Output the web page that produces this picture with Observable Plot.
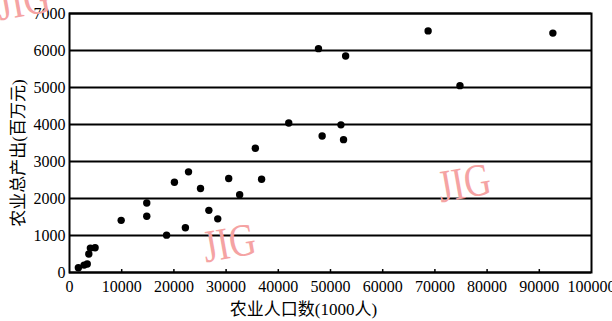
<!DOCTYPE html>
<html><head><meta charset="utf-8">
<script src="https://cdn.jsdelivr.net/npm/d3@7"></script>
<script src="https://cdn.jsdelivr.net/npm/@observablehq/plot@0.6"></script>
<style>
body{margin:0;background:#fff}
#c{position:relative;width:612px;height:321px;overflow:hidden;background:#fff}
.wm{position:absolute;color:#f5a3a3;font-family:"Liberation Serif",serif;font-size:46px;line-height:1;transform-origin:center;pointer-events:none;white-space:nowrap}
</style></head>
<body><div id="c"></div>
<script>
const popX = [1700, 2800, 3400, 3700, 4000, 4900, 9900, 14800, 14800, 18600, 20100, 22200, 22800, 25100, 26700, 28400, 30500, 32600, 35600, 36800, 42000, 47700, 48400, 52000, 52500, 52900, 68700, 74800, 92600];
const outY = [130, 200, 230, 500, 660, 670, 1410, 1880, 1520, 1010, 2440, 1210, 2720, 2270, 1680, 1450, 2540, 2100, 3360, 2520, 4040, 6050, 3690, 3990, 3590, 5850, 6530, 5050, 6470];
const xTicks = [0, 10000, 20000, 30000, 40000, 50000, 60000, 70000, 80000, 90000, 100000];
const yTicks = [0, 1000, 2000, 3000, 4000, 5000, 6000, 7000];
const xTitle = "农业人口数(1000人)";
const yTitle = "农业总产出(百万元)";
const watermark = "JIG";

const data = popX.map((x, i) => ({x, y: outY[i]}));
const font = '"Liberation Serif","Noto Sans CJK SC",serif';

const chart = Plot.plot({
  width: 612, height: 321,
  marginLeft: 69, marginRight: 21, marginTop: 13, marginBottom: 49,
  style: {fontFamily: font, fontSize: "16px", color: "#000", background: "#fff", overflow: "visible"},
  x: {domain: [0, 100000], label: null},
  y: {domain: [0, 7000], label: null},
  marks: [
    Plot.ruleY(yTicks, {stroke: "#000", strokeWidth: 2}),
    Plot.ruleX(xTicks.slice(1, -1), {y1: 0, y2: 80, stroke: "#000", strokeWidth: 1.5}),
    Plot.frame({stroke: "#000", strokeWidth: 2}),
    Plot.axisX({ticks: xTicks, tickSize: 0, tickPadding: 8, tickFormat: d => String(d), fontSize: 16}),
    Plot.axisY({ticks: yTicks, tickSize: 0, tickPadding: 4, tickFormat: d => String(d), fontSize: 16}),
    Plot.dot(data, {x: "x", y: "y", r: 3.7, fill: "#000", stroke: "none"}),
    Plot.text([xTitle], {frameAnchor: "bottom", textAnchor: "middle", lineAnchor: "middle", dx: -27, dy: 37, text: d => d, fontSize: 17, fontFamily: font, fill: "#000"}),
    Plot.text([yTitle], {frameAnchor: "left", textAnchor: "middle", lineAnchor: "middle", dx: -51, dy: 10, rotate: -90, text: d => d, fontSize: 17, fontFamily: font, fill: "#000"})
  ]
});
const c = document.getElementById("c");
c.appendChild(chart);
[[196, 220], [431, 160], [-10, -22]].forEach(([l, t]) => {
  const d = document.createElement("div");
  d.className = "wm";
  d.textContent = watermark;
  d.style.left = l + "px";
  d.style.top = t + "px";
  d.style.transform = "rotate(-10deg) scaleX(0.8)";
  c.appendChild(d);
});
</script>
</body></html>
